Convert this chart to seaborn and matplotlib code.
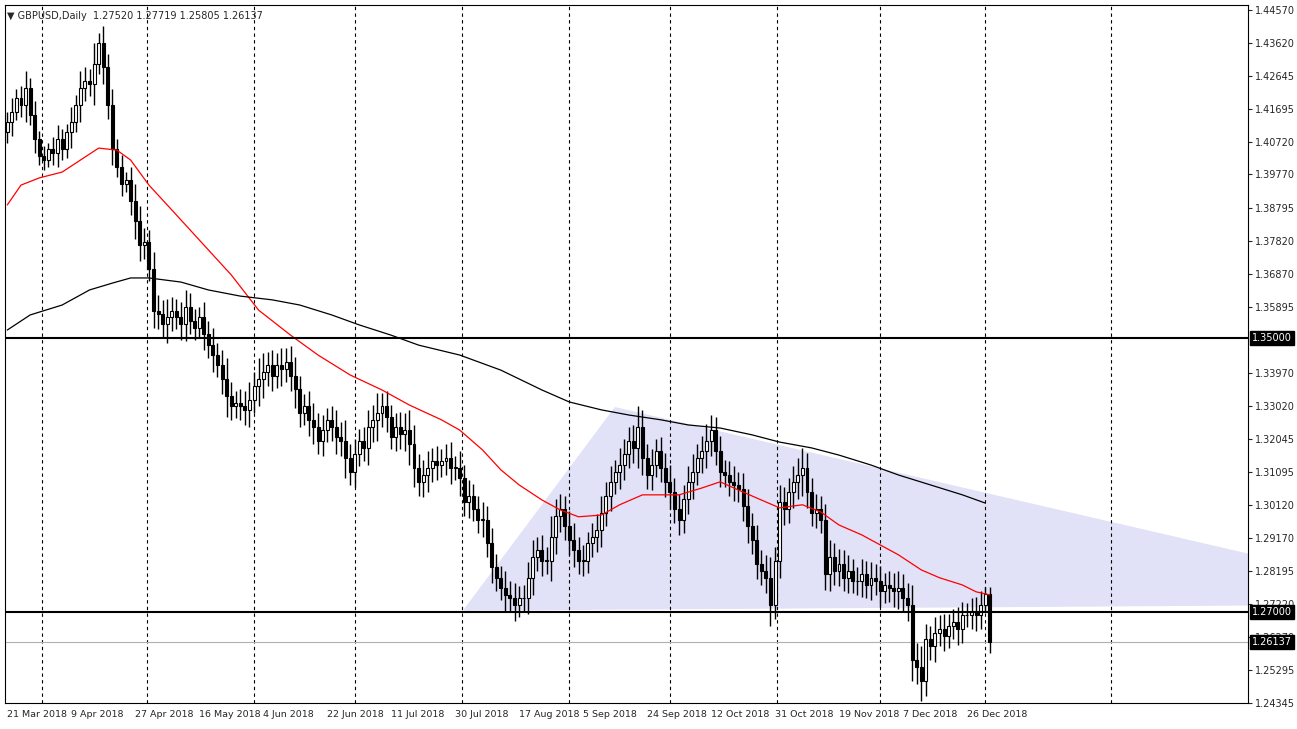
import numpy as np
import pandas as pd
import matplotlib
matplotlib.use("Agg")
import matplotlib.pyplot as plt
import seaborn as sns

# daily closes, bar 0 = 21 Mar 2018
closes = [
    1.4130, 1.4160, 1.4200, 1.4180, 1.4230, 1.4150, 1.4080, 1.4030, 1.4020, 1.4050,
    1.4040, 1.4080, 1.4050, 1.4100, 1.4130, 1.4180, 1.4230, 1.4250, 1.4240, 1.4300,
    1.4360, 1.4290, 1.4180, 1.4050, 1.4000, 1.3950, 1.3960, 1.3900, 1.3840, 1.3770,
    1.3780, 1.3700, 1.3580, 1.3570, 1.3540, 1.3560, 1.3580, 1.3560, 1.3540, 1.3590,
    1.3550, 1.3530, 1.3560, 1.3510, 1.3480, 1.3450, 1.3420, 1.3380, 1.3330, 1.3300,
    1.3310, 1.3300, 1.3290, 1.3320, 1.3360, 1.3380, 1.3400, 1.3420, 1.3390, 1.3420,
    1.3410, 1.3430, 1.3390, 1.3350, 1.3280, 1.3300, 1.3260, 1.3240, 1.3200, 1.3230,
    1.3260, 1.3240, 1.3210, 1.3200, 1.3150, 1.3110, 1.3160, 1.3200, 1.3180, 1.3240,
    1.3260, 1.3280, 1.3300, 1.3270, 1.3210, 1.3240, 1.3220, 1.3230, 1.3190, 1.3120,
    1.3080, 1.3100, 1.3120, 1.3140, 1.3130, 1.3140, 1.3150, 1.3120, 1.3120, 1.3090,
    1.3020, 1.3040, 1.3000, 1.2970, 1.2970, 1.2900, 1.2830, 1.2800, 1.2770, 1.2750,
    1.2740, 1.2720, 1.2740, 1.2740, 1.2800, 1.2860, 1.2880, 1.2850, 1.2850, 1.2920,
    1.2980, 1.3000, 1.2950, 1.2910, 1.2880, 1.2850, 1.2850, 1.2900, 1.2920, 1.2940,
    1.2990, 1.3040, 1.3080, 1.3110, 1.3130, 1.3160, 1.3200, 1.3180, 1.3240, 1.3150,
    1.3100, 1.3130, 1.3170, 1.3120, 1.3080, 1.3050, 1.3000, 1.2970, 1.3030, 1.3080,
    1.3110, 1.3150, 1.3170, 1.3200, 1.3230, 1.3170, 1.3110, 1.3100, 1.3080, 1.3070,
    1.3060, 1.3010, 1.2950, 1.2910, 1.2840, 1.2820, 1.2800, 1.2720, 1.2850, 1.3020,
    1.3000, 1.3050, 1.3080, 1.3100, 1.3120, 1.3050, 1.2990, 1.3000, 1.2970, 1.2810,
    1.2860, 1.2820, 1.2840, 1.2800, 1.2820, 1.2790, 1.2790, 1.2810, 1.2780, 1.2800,
    1.2790, 1.2760, 1.2780, 1.2770, 1.2760, 1.2770, 1.2740, 1.2720, 1.2560, 1.2540,
    1.2500, 1.2620, 1.2600, 1.2640, 1.2650, 1.2630, 1.2660, 1.2670, 1.2650, 1.2690,
    1.2690, 1.2700, 1.2690, 1.2720, 1.2752, 1.26137,
]
first_open = 1.4100
# wick length in pips beyond the body
wicks = [
    30, 40, 25, 35, 50, 30, 40, 25, 30, 20, 35, 40, 30, 25, 45, 30, 50, 40, 35, 60,
    30, 50, 40, 45, 30, 35, 25, 40, 50, 45, 40, 35, 50, 45, 40, 55, 40, 35, 45, 50,
    40, 35, 30, 45, 40, 50, 35, 45, 60, 40, 35, 40, 45, 50, 40, 60, 55, 40, 45, 35,
    50, 40, 45, 55, 40, 35, 45, 50, 40, 45, 35, 40, 50, 45, 60, 40, 45, 35, 40, 50,
    45, 60, 40, 45, 35, 40, 45, 50, 60, 55, 40, 45, 50, 40, 45, 35, 40, 45, 35, 50,
    40, 45, 35, 40, 50, 40, 45, 40, 35, 50, 40, 45, 35, 40, 45, 50, 40, 45, 40, 60,
    50, 45, 40, 45, 50, 40, 45, 35, 40, 45, 50, 40, 45, 35, 50, 45, 40, 45, 60, 50,
    40, 45, 35, 40, 45, 50, 40, 45, 40, 45, 50, 40, 45, 50, 45, 40, 45, 35, 40, 45,
    40, 45, 50, 40, 45, 40, 45, 60, 40, 50, 45, 40, 45, 50, 60, 45, 40, 45, 40, 45,
    50, 40, 45, 40, 45, 35, 40, 45, 40, 45, 40, 45, 35, 40, 45, 50, 40, 45, 60, 50,
    60, 45, 40, 45, 40, 45, 35, 40, 45, 40, 35, 40, 45, 40, 20, 0,
]

# moving averages: (bar, price)
ma50_bar = [0, 3, 7, 12, 16, 20, 24, 27, 31, 37, 42, 49, 55, 62, 68, 75, 82, 88, 95, 99,
            104, 108, 112, 117, 121, 125, 130, 134, 139, 143, 147, 152, 156, 160, 165, 169,
            174, 178, 182, 187, 191, 195, 200, 204, 209, 212, 215]
ma50_val = [1.3888, 1.3946, 1.3967, 1.3984, 1.4019, 1.4054, 1.4048, 1.4019, 1.3946, 1.3859,
            1.3786, 1.3684, 1.3581, 1.3508, 1.3450, 1.3392, 1.3348, 1.3304, 1.3261, 1.3231,
            1.3173, 1.3115, 1.3071, 1.3027, 1.2998, 1.2978, 1.2983, 1.3013, 1.3042, 1.3042,
            1.3042, 1.3062, 1.3080, 1.3056, 1.3027, 1.3004, 1.3013, 1.2992, 1.2954, 1.2925,
            1.2896, 1.2867, 1.2823, 1.2800, 1.2779, 1.2759, 1.2750]
ma200_bar = [0, 5, 12, 18, 23, 27, 31, 38, 44, 51, 58, 64, 71, 77, 84, 90, 99, 108, 117,
             123, 130, 136, 143, 149, 156, 163, 169, 176, 182, 189, 195, 202, 209, 214]
ma200_val = [1.3523, 1.3567, 1.3596, 1.3640, 1.3660, 1.3675, 1.3675, 1.3663, 1.3640, 1.3622,
             1.3611, 1.3596, 1.3567, 1.3538, 1.3508, 1.3479, 1.3450, 1.3406, 1.3348, 1.3313,
             1.3290, 1.3275, 1.3261, 1.3246, 1.3237, 1.3217, 1.3196, 1.3179, 1.3158, 1.3129,
             1.3100, 1.3071, 1.3042, 1.3018]

# descending triangle
tri_bar = [100, 133, 272, 272]
tri_val = [1.2706, 1.3296, 1.2867, 1.2721]

levels = [1.3500, 1.2700]
last_price = 1.26137

yticks = ["1.44570", "1.43620", "1.42645", "1.41695", "1.40720", "1.39770", "1.38795",
          "1.37820", "1.36870", "1.35895", "1.33970", "1.33020", "1.32045", "1.31095",
          "1.30120", "1.29170", "1.28195", "1.27220", "1.26270", "1.25295", "1.24345"]
date_labels = ["21 Mar 2018", "9 Apr 2018", "27 Apr 2018", "16 May 2018", "4 Jun 2018",
               "22 Jun 2018", "11 Jul 2018", "30 Jul 2018", "17 Aug 2018", "5 Sep 2018",
               "24 Sep 2018", "12 Oct 2018", "31 Oct 2018", "19 Nov 2018", "7 Dec 2018",
               "26 Dec 2018"]
month_starts = [7.5, 30.5, 54, 76, 99.5, 123, 145, 168.5, 191, 214, 241.5]

sns.set_style("white")
plt.rcParams['font.family'] = ['DejaVu Sans']

fig = plt.figure(figsize=(12.97, 7.29), dpi=100)
ax = fig.add_axes([5 / 1297, 26 / 729, 1243 / 1297, 698 / 729])

ax.fill(tri_bar, tri_val, color="#e1e1f7", zorder=0)
for m in month_starts:
    ax.axvline(m, color="black", lw=0.8, ls=(0, (3, 3)), zorder=1)

opens = [first_open] + closes[:-1]
for i, (o, c, w) in enumerate(zip(opens, closes, wicks)):
    hi = max(o, c) + w * 0.0001
    lo = min(o, c) - w * 0.0001
    if i == len(closes) - 1:
        hi, lo = 1.27719, 1.25805
    ax.vlines(i, lo, hi, color="black", lw=1, zorder=3)
    bull = c >= o
    ax.bar(i, abs(c - o) if abs(c - o) > 0.0002 else 0.0002, bottom=min(o, c), width=0.65,
           color="white" if bull else "black", edgecolor="black", lw=0.8, zorder=4)

sns.lineplot(x=ma50_bar, y=ma50_val, ax=ax, color="red", lw=0.9, zorder=5)
sns.lineplot(x=ma200_bar, y=ma200_val, ax=ax, color="black", lw=0.9, zorder=5)

for lv in levels:
    ax.axhline(lv, color="black", lw=1.5, zorder=6)
ax.axhline(last_price, color="#b0b0b0", lw=0.8, zorder=2)

ax.set_xlim(-0.5, 271.5)
ax.set_ylim(1.24348, 1.44716)
ax.yaxis.tick_right()
ax.set_yticks([float(t) for t in yticks])
ax.set_yticklabels(yticks, fontsize=7)
ax.set_xticks([i * 14 for i in range(len(date_labels))])
ax.set_xticklabels(date_labels, fontsize=6.8, ha="left")
ax.tick_params(axis="both", length=3, pad=2, direction="out")
for s in ax.spines.values():
    s.set_color("black")
    s.set_linewidth(0.8)

for lv in levels + [last_price]:
    ax.text(1.003, lv, "%.5f" % lv, transform=ax.get_yaxis_transform(), fontsize=7,
            color="white", va="center", ha="left", zorder=10,
            bbox=dict(boxstyle="square,pad=0.2", fc="black", ec="black"))

ax.text(0.002, 0.992, "▼ GBPUSD,Daily  1.27520 1.27719 1.25805 1.26137",
        transform=ax.transAxes, fontsize=7, va="top", ha="left")

fig.savefig("out.png", dpi=100)
